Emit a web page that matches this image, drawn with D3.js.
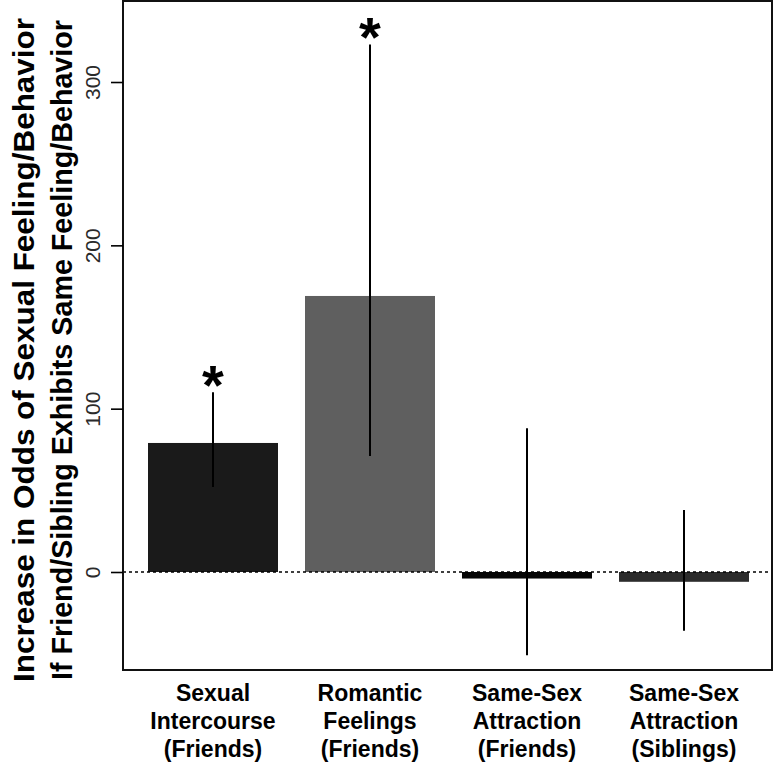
<!DOCTYPE html>
<html><head><meta charset="utf-8">
<script src="https://cdn.jsdelivr.net/npm/d3@7"></script>
<style>body{margin:0;background:#fff}svg{display:block}</style>
</head><body>
<svg id="c" width="774" height="764"></svg>
<script>
const categories = [
  ["Sexual","Intercourse","(Friends)"],
  ["Romantic","Feelings","(Friends)"],
  ["Same-Sex","Attraction","(Friends)"],
  ["Same-Sex","Attraction","(Siblings)"]
];
const values = [79, 169, -4, -6];
const lower = [52, 71, -51, -36];
const upper = [110, 323, 88, 38];
const significant = [true, true, false, false];
const barColors = ["#1a1a1a", "#5f5f5f", "#060606", "#2c2c2c"];
const yTicks = [0, 100, 200, 300];
const yTitle = ["Increase in Odds of Sexual Feeling/Behavior", "If Friend/Sibling Exhibits Same Feeling/Behavior"];

const svg = d3.select("#c");
const box = {l: 123, r: 772, t: 1, b: 670};
const idx = d3.range(values.length);
const x = d3.scaleBand().domain(idx).range([134.5, 762.5]).paddingInner(0.172).paddingOuter(0.086);
const y = d3.scaleLinear().domain([-60, 349.6]).range([box.b, box.t]);

// bars
svg.append("g").selectAll("rect").data(idx).join("rect")
  .attr("x", i => x(i)).attr("width", x.bandwidth())
  .attr("y", i => y(Math.max(0, values[i])))
  .attr("height", i => Math.abs(y(values[i]) - y(0)))
  .attr("fill", i => barColors[i]);

// zero line
svg.append("line").attr("x1", box.l).attr("x2", box.r).attr("y1", y(0)).attr("y2", y(0))
  .attr("stroke", "#000").attr("stroke-width", 1.6).attr("stroke-dasharray", "3,3");

// error bars
svg.append("g").selectAll("line").data(idx).join("line")
  .attr("x1", i => x(i) + x.bandwidth()/2).attr("x2", i => x(i) + x.bandwidth()/2)
  .attr("y1", i => y(lower[i])).attr("y2", i => y(upper[i]))
  .attr("stroke", "#000").attr("stroke-width", 2);

// stars
svg.append("g").selectAll("text").data(idx.filter(i => significant[i])).join("text")
  .attr("x", i => x(i) + x.bandwidth()/2).attr("y", i => y(upper[i]) - 15 + 27)
  .attr("text-anchor", "middle").attr("font-family", "Liberation Sans, Arial, sans-serif")
  .attr("font-weight", "bold").attr("font-size", 56).text("*");

// box
svg.append("rect").attr("x", box.l).attr("y", box.t).attr("width", box.r - box.l).attr("height", box.b - box.t)
  .attr("fill", "none").attr("stroke", "#111").attr("stroke-width", 2);

// y axis
const yAxis = svg.append("g").attr("transform", `translate(${box.l},0)`)
  .call(d3.axisLeft(y).tickValues(yTicks).tickSize(12).tickPadding(9).tickFormat(d3.format("d")));
yAxis.select(".domain").remove();
yAxis.selectAll(".tick line").attr("stroke", "#000").attr("stroke-width", 1.6);
yAxis.selectAll(".tick text")
  .attr("font-family", "Liberation Sans, Arial, sans-serif").attr("font-size", 21).attr("fill", "#2a2a2a")
  .attr("text-anchor", "middle").attr("x", 0).attr("dy", 0)
  .attr("transform", "translate(-23,0) rotate(-90)")
  .attr("y", 0).attr("dominant-baseline", "auto");

// y title
svg.append("g").selectAll("text").data(yTitle).join("text")
  .attr("transform", (d, i) => `translate(${34 + i*38},350) rotate(-90)`)
  .attr("text-anchor", "middle").attr("font-family", "Liberation Sans, Arial, sans-serif")
  .attr("font-weight", "bold").attr("font-size", (d, i) => i === 0 ? 30 : 28.7).attr("fill", "#000")
  .attr("textLength", (d, i) => i === 0 ? 664 : 660).attr("lengthAdjust", "spacingAndGlyphs")
  .text(d => d);

// x labels
const xl = svg.append("g").selectAll("text").data(idx).join("text")
  .attr("text-anchor", "middle").attr("font-family", "Liberation Sans, Arial, sans-serif")
  .attr("font-weight", "bold").attr("font-size", 23).attr("fill", "#000");
xl.selectAll("tspan").data(i => categories[i].map(s => [i, s])).join("tspan")
  .attr("x", d => x(d[0]) + x.bandwidth()/2)
  .attr("y", (d, j) => 701 + j*28)
  .text(d => d[1]);
</script>
</body></html>
